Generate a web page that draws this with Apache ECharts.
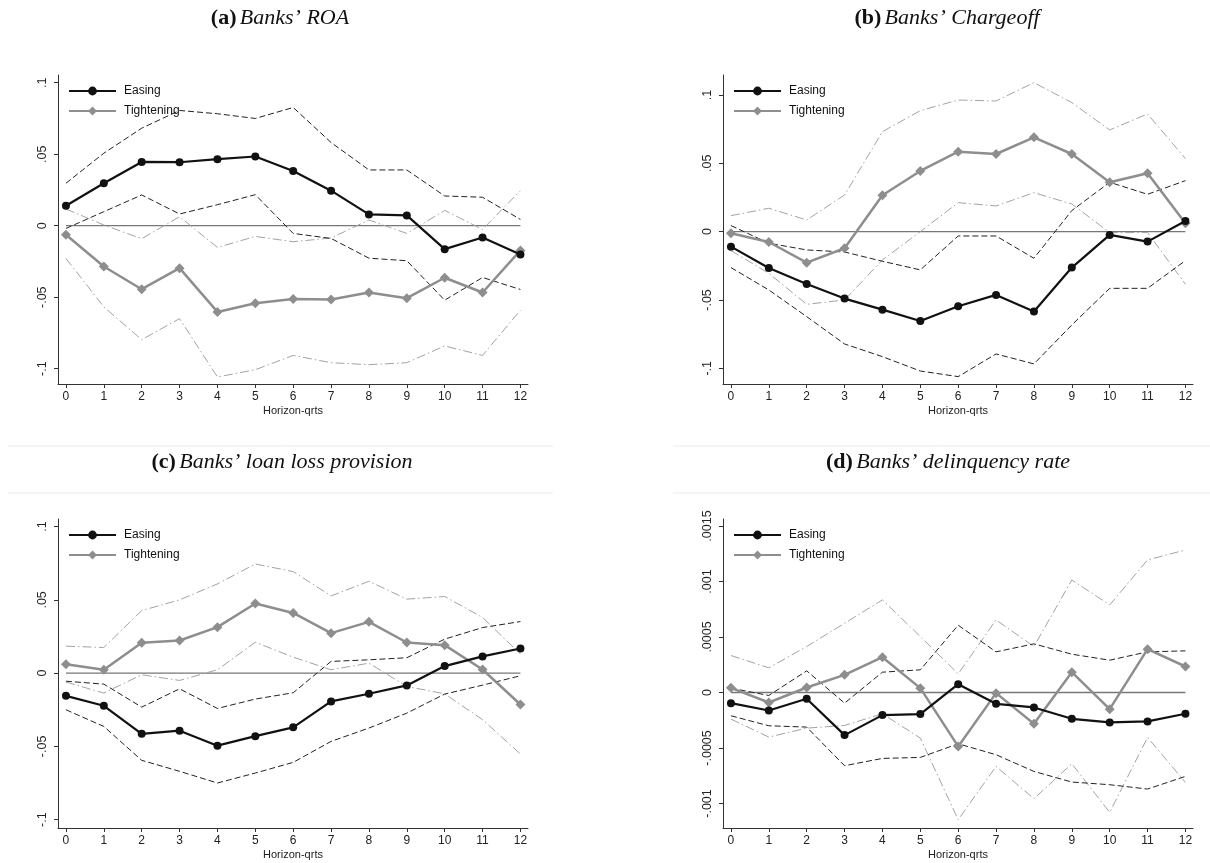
<!DOCTYPE html>
<html>
<head>
<meta charset="utf-8">
<script src="https://cdn.jsdelivr.net/npm/echarts@6/dist/echarts.min.js"></script>
<style>
  html, body { margin: 0; padding: 0; background: #fff; }
  #chart { width: 1210px; height: 863px; }
</style>
</head>
<body>
<div id="chart"></div>
<script>
// Horizon in quarters
const horizon = [0, 1, 2, 3, 4, 5, 6, 7, 8, 9, 10, 11, 12];

// (a) Banks' ROA
const roaEasing    = [0.0140, 0.0297, 0.0446, 0.0444, 0.0465, 0.0484, 0.0383, 0.0245, 0.0079, 0.0072, -0.0164, -0.0082, -0.0201];
const roaEasingHi  = [0.0297, 0.0507, 0.0682, 0.0806, 0.0783, 0.0750, 0.0827, 0.0582, 0.0390, 0.0390, 0.0208, 0.0199, 0.0044];
const roaEasingLo  = [-0.0019, 0.0098, 0.0215, 0.0082, 0.0147, 0.0217, -0.0054, -0.0089, -0.0227, -0.0245, -0.0521, -0.0362, -0.0446];
const roaTight     = [-0.0063, -0.0285, -0.0444, -0.0297, -0.0603, -0.0542, -0.0512, -0.0516, -0.0467, -0.0507, -0.0364, -0.0467, -0.0173];
const roaTightHi   = [0.0117, 0.0005, -0.0091, 0.0063, -0.0152, -0.0075, -0.0112, -0.0086, 0.0040, -0.0054, 0.0107, -0.0026, 0.0245];
const roaTightLo   = [-0.0229, -0.0568, -0.0797, -0.0650, -0.1058, -0.1007, -0.0907, -0.0958, -0.0972, -0.0958, -0.0841, -0.0907, -0.0591];

// (b) Banks' Chargeoff
const coEasing     = [-0.0110, -0.0266, -0.0383, -0.0490, -0.0571, -0.0654, -0.0546, -0.0463, -0.0585, -0.0263, -0.0024, -0.0073, 0.0078];
const coEasingHi   = [0.0044, -0.0085, -0.0134, -0.0149, -0.0217, -0.0280, -0.0032, -0.0032, -0.0195, 0.0154, 0.0361, 0.0273, 0.0373];
const coEasingLo   = [-0.0263, -0.0427, -0.0622, -0.0822, -0.0915, -0.1020, -0.1061, -0.0895, -0.0968, -0.0683, -0.0415, -0.0415, -0.0212];
const coTight      = [-0.0012, -0.0076, -0.0227, -0.0122, 0.0266, 0.0444, 0.0585, 0.0568, 0.0690, 0.0568, 0.0361, 0.0427, 0.0061];
const coTightHi    = [0.0117, 0.0171, 0.0085, 0.0268, 0.0732, 0.0885, 0.0963, 0.0956, 0.1090, 0.0944, 0.0744, 0.0861, 0.0534];
const coTightLo    = [-0.0139, -0.0305, -0.0532, -0.0500, -0.0207, 0.0000, 0.0212, 0.0188, 0.0285, 0.0202, -0.0007, -0.0007, -0.0385];

// (c) Banks' loan loss provision
const llpEasing    = [-0.0155, -0.0223, -0.0414, -0.0393, -0.0495, -0.0430, -0.0370, -0.0193, -0.0141, -0.0084, 0.0048, 0.0114, 0.0168];
const llpEasingHi  = [-0.0055, -0.0075, -0.0232, -0.0107, -0.0241, -0.0177, -0.0134, 0.0080, 0.0091, 0.0105, 0.0232, 0.0311, 0.0352];
const llpEasingLo  = [-0.0250, -0.0364, -0.0595, -0.0670, -0.0750, -0.0682, -0.0609, -0.0466, -0.0375, -0.0273, -0.0143, -0.0082, -0.0018];
const llpTight     = [0.0061, 0.0023, 0.0207, 0.0223, 0.0314, 0.0475, 0.0411, 0.0273, 0.0350, 0.0209, 0.0191, 0.0025, -0.0214];
const llpTightHi   = [0.0184, 0.0175, 0.0427, 0.0500, 0.0609, 0.0745, 0.0693, 0.0527, 0.0627, 0.0505, 0.0523, 0.0380, 0.0130];
const llpTightLo   = [-0.0061, -0.0136, -0.0011, -0.0050, 0.0023, 0.0211, 0.0109, 0.0023, 0.0068, -0.0091, -0.0141, -0.0318, -0.0552];

// (d) Banks' delinquency rate
const dqEasing     = [-0.000096, -0.000162, -0.000057, -0.000384, -0.000204, -0.000195, 0.000075, -0.000102, -0.000135, -0.000237, -0.000270, -0.000261, -0.000192];
const dqEasingHi   = [0.000039, -0.000027, 0.000195, -0.000096, 0.000183, 0.000204, 0.000606, 0.000366, 0.000438, 0.000345, 0.000291, 0.000366, 0.000375];
const dqEasingLo   = [-0.000210, -0.000300, -0.000312, -0.000660, -0.000594, -0.000585, -0.000462, -0.000561, -0.000711, -0.000807, -0.000831, -0.000870, -0.000756];
const dqTight      = [0.000042, -0.000090, 0.000045, 0.000159, 0.000318, 0.000039, -0.000486, -0.000006, -0.000282, 0.000183, -0.000150, 0.000390, 0.000234];
const dqTightHi    = [0.000333, 0.000222, 0.000414, 0.000624, 0.000834, 0.000504, 0.000168, 0.000654, 0.000414, 0.001014, 0.000789, 0.001194, 0.001284];
const dqTightLo    = [-0.000240, -0.000402, -0.000321, -0.000297, -0.000192, -0.000411, -0.001146, -0.000666, -0.000957, -0.000642, -0.001080, -0.000405, -0.000810];

// Tick values
const xTicks = [0, 1, 2, 3, 4, 5, 6, 7, 8, 9, 10, 11, 12];
const yTicksRatio = [-0.1, -0.05, 0, 0.05, 0.1];
const yTicksDelinq = [-0.001, -0.0005, 0, 0.0005, 0.001, 0.0015];

// Panel titles
const panelTags = ['(a)', '(b)', '(c)', '(d)'];
const panelNames = ['Banks\u2019 ROA', 'Banks\u2019 Chargeoff', 'Banks\u2019 loan loss provision', 'Banks\u2019 delinquency rate'];

const legendNames = ['Easing', 'Tightening'];

const panels = [
  { easing: roaEasing, easingHi: roaEasingHi, easingLo: roaEasingLo, tight: roaTight, tightHi: roaTightHi, tightLo: roaTightLo,
    yTicks: yTicksRatio, yMin: -0.1107, yMax: 0.1054 },
  { easing: coEasing, easingHi: coEasingHi, easingLo: coEasingLo, tight: coTight, tightHi: coTightHi, tightLo: coTightLo,
    yTicks: yTicksRatio, yMin: -0.1115, yMax: 0.1146 },
  { easing: llpEasing, easingHi: llpEasingHi, easingLo: llpEasingLo, tight: llpTight, tightHi: llpTightHi, tightLo: llpTightLo,
    yTicks: yTicksRatio, yMin: -0.1057, yMax: 0.1052 },
  { easing: dqEasing, easingHi: dqEasingHi, easingLo: dqEasingLo, tight: dqTight, tightHi: dqTightHi, tightLo: dqTightLo,
    yTicks: yTicksDelinq, yMin: -0.001221, yMax: 0.001563 }
];

// Layout of the four plot areas
const gridBoxes = [
  { left: 58, top: 75, width: 470, height: 309 },
  { left: 723, top: 75, width: 470, height: 309 },
  { left: 58, top: 519, width: 470, height: 309 },
  { left: 723, top: 519, width: 470, height: 309 }
];
const titleCenters = [[280, 18], [947, 18], [282, 462], [948, 462]];

const EASING = '#111111';
const TIGHT = '#8e8e8e';
const CI_DARK = '#222222';
const CI_LIGHT = '#a3a3a3';
const AXIS = '#333333';
const SANS = 'Liberation Sans, Arial, sans-serif';

function fmtTick(v) {
  const s = String(+Number(v).toPrecision(6));
  return s.replace(/^(-?)0\./, '$1.');
}

const pairs = arr => horizon.map((h, i) => [h, arr[i]]);

const grid = [], xAxis = [], yAxis = [], series = [], legend = [], graphic = [];

panels.forEach((p, k) => {
  grid.push(Object.assign({ containLabel: false }, gridBoxes[k]));

  xAxis.push({
    type: 'value', gridIndex: k, min: -0.21, max: 12.2,
    name: 'Horizon-qrts', nameLocation: 'middle', nameGap: 21,
    nameTextStyle: { fontFamily: SANS, fontSize: 11, color: '#222' },
    axisLine: { show: true, onZero: false, lineStyle: { color: AXIS, width: 1 } },
    axisTick: { show: true, length: 4, customValues: xTicks, lineStyle: { color: AXIS } },
    axisLabel: { customValues: xTicks, margin: 7, fontFamily: SANS, fontSize: 12, color: '#222' },
    splitLine: { show: false }
  });

  yAxis.push({
    type: 'value', gridIndex: k, min: p.yMin, max: p.yMax,
    axisLine: { show: true, onZero: false, lineStyle: { color: AXIS, width: 1 } },
    axisTick: { show: true, length: 4, customValues: p.yTicks, lineStyle: { color: AXIS } },
    axisLabel: { customValues: p.yTicks, rotate: 90, margin: 9, fontFamily: SANS, fontSize: 12.5, color: '#222',
                 formatter: fmtTick },
    splitLine: { show: false }
  });

  // reference line at zero
  series.push({
    type: 'line', xAxisIndex: k, yAxisIndex: k, data: [[0, 0], [12, 0]],
    symbol: 'none', silent: true, z: 1,
    lineStyle: { color: '#777777', width: 1.3 }
  });

  // confidence bands
  [[p.tightHi, CI_LIGHT, [9, 3, 1.5, 3]], [p.tightLo, CI_LIGHT, [9, 3, 1.5, 3]],
   [p.easingHi, CI_DARK, [6, 3]], [p.easingLo, CI_DARK, [6, 3]]].forEach(([arr, col, dash]) => {
    series.push({
      type: 'line', xAxisIndex: k, yAxisIndex: k, data: pairs(arr),
      symbol: 'none', silent: true, z: 2,
      lineStyle: { color: col, width: 1, type: dash }
    });
  });

  series.push({
    name: 'Tightening', type: 'line', xAxisIndex: k, yAxisIndex: k, data: pairs(p.tight),
    symbol: 'diamond', symbolSize: 10, z: 3,
    lineStyle: { color: TIGHT, width: 2.5 }, itemStyle: { color: TIGHT }
  });
  series.push({
    name: 'Easing', type: 'line', xAxisIndex: k, yAxisIndex: k, data: pairs(p.easing),
    symbol: 'circle', symbolSize: 8, z: 4,
    lineStyle: { color: EASING, width: 2.2 }, itemStyle: { color: EASING }
  });

  legend.push({
    data: legendNames, orient: 'vertical', padding: 0,
    left: gridBoxes[k].left + 10, top: gridBoxes[k].top + 10,
    itemWidth: 47, itemHeight: 11, itemGap: 8, selectedMode: false,
    textStyle: { fontFamily: SANS, fontSize: 12, color: '#111', padding: [0, 0, 0, 3] }
  });

  graphic.push({
    type: 'text',
    style: {
      x: titleCenters[k][0], y: titleCenters[k][1], align: 'center', verticalAlign: 'middle',
      text: '{b|' + panelTags[k] + '} {i|' + panelNames[k] + '}',
      rich: {
        b: { fontFamily: 'Liberation Serif, serif', fontWeight: 'bold', fontSize: 22, fill: '#111' },
        i: { fontFamily: 'Liberation Serif, serif', fontStyle: 'italic', fontSize: 22, fill: '#111' }
      }
    }
  });
});

// thin separator rules around the lower panel titles
[[8, 446, 553], [8, 493, 553], [673, 446, 1210], [673, 493, 1210]].forEach(([x1, y, x2]) => {
  graphic.push({ type: 'line', silent: true, shape: { x1, y1: y, x2, y2: y }, style: { stroke: '#ebebeb', lineWidth: 1 } });
});

const chart = echarts.init(document.getElementById('chart'), null, { renderer: 'canvas' });
chart.setOption({
  backgroundColor: '#ffffff',
  animation: false,
  grid, xAxis, yAxis, series, legend, graphic
});
</script>
</body>
</html>
